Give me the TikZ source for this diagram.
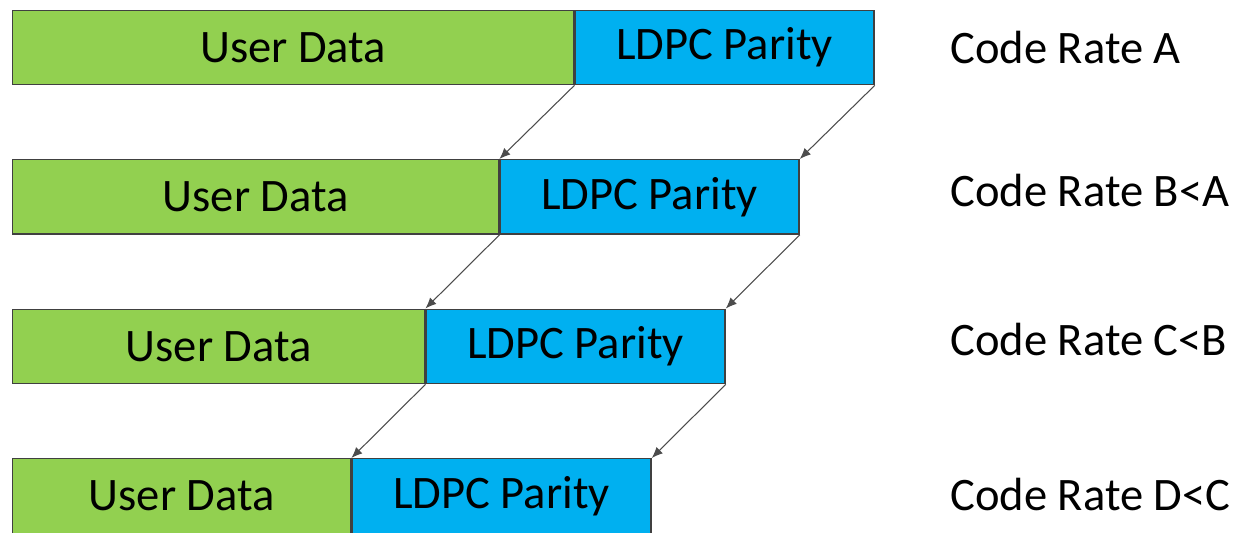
\documentclass[tikz,border=0pt]{standalone}
\usepackage{fontspec}
\setmainfont{Carlito}
\usepackage{xcolor}
\usetikzlibrary{math,arrows.meta}

\definecolor{userGreen}{HTML}{92D050}
\definecolor{ldpcBlue}{HTML}{00B0F0}

\begin{document}
\begin{tikzpicture}[x=0.02cm,y=-0.02cm,
	blk/.style={draw=black!75,line width=0.8pt,inner sep=0pt,anchor=north west,
		minimum height=1.49cm,font=\fontsize{26.5}{30}\selectfont},
	user/.style={blk,fill=userGreen},
	parity/.style={blk,fill=ldpcBlue,minimum width=5.98cm},
	rate/.style={anchor=west,inner sep=0pt,font=\fontsize{26.5}{30}\selectfont},
	moveto/.style={draw=black!70,line width=0.6pt,-{Latex[length=2.2mm,width=1.8mm]}}]
\useasboundingbox (0,0) rectangle (1243,532);
\tikzmath{
	\x = 12;\dy = 149.5;
	\ua = 561;\ub = 486;\uc = 412;\ud = 338;
	{\node[user,minimum width=\ua*0.02cm] (u1) at (\x,9.5) {User Data};};
	{\node[parity] (p1) at (u1.north east) {LDPC Parity};};
	{\node[user,minimum width=\ub*0.02cm] (u2) at (\x,9.5+\dy) {User Data};};
	{\node[parity] (p2) at (u2.north east) {LDPC Parity};};
	{\node[user,minimum width=\uc*0.02cm] (u3) at (\x,9.5+2*\dy) {User Data};};
	{\node[parity] (p3) at (u3.north east) {LDPC Parity};};
	{\node[user,minimum width=\ud*0.02cm] (u4) at (\x,9.5+3*\dy) {User Data};};
	{\node[parity] (p4) at (u4.north east) {LDPC Parity};};
	%
	{\node[rate] (ra) at (950,47) {Code Rate A};};
	{\node[rate] (rb) at (950,190) {Code Rate B<A};};
	{\node[rate] (rc) at (950,339) {Code Rate C<B};};
	{\node[rate] (rd) at (950,494) {Code Rate D<C};};
	%
	{\draw[moveto] (p1.south west) -- (p2.north west);};
	{\draw[moveto] (p1.south east) -- (p2.north east);};
	{\draw[moveto] (p2.south west) -- (p3.north west);};
	{\draw[moveto] (p2.south east) -- (p3.north east);};
	{\draw[moveto] (p3.south west) -- (p4.north west);};
	{\draw[moveto] (p3.south east) -- (p4.north east);};
};
\end{tikzpicture}
\end{document}
